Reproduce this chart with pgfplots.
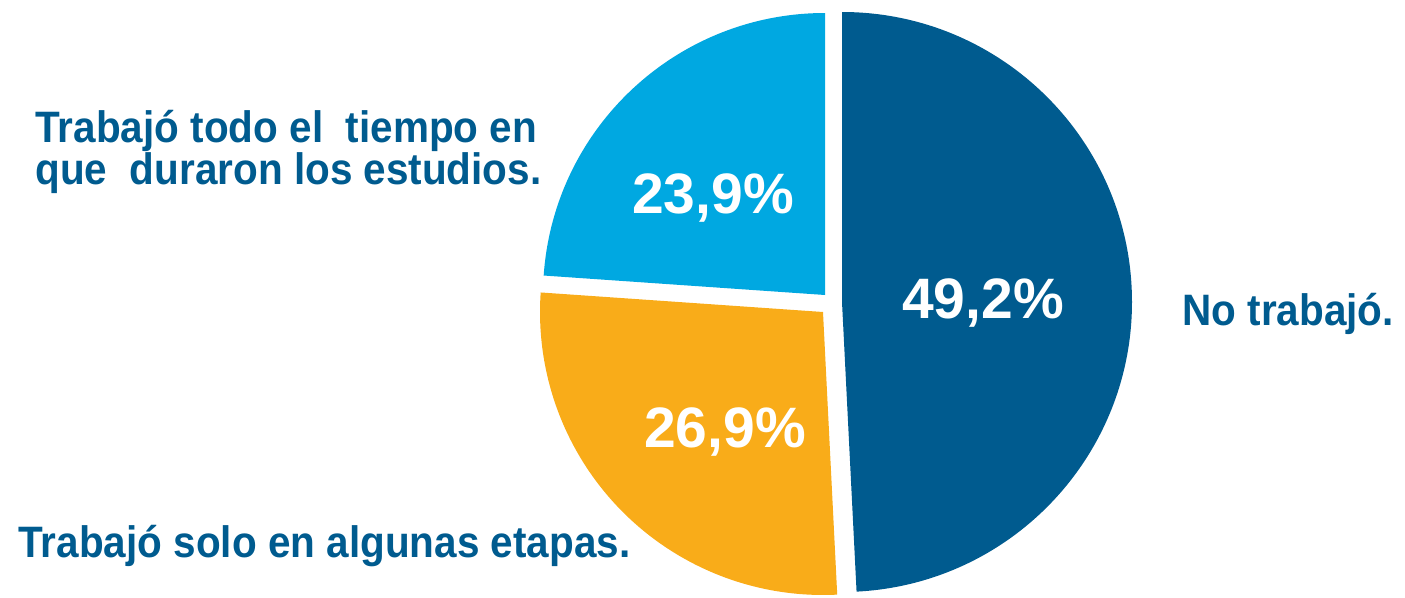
\documentclass[border=0pt]{standalone}
\usepackage{graphicx}
\usepackage{pgfplots}
\usepackage{pgfplotstable}
\pgfplotsset{compat=1.18}
\usepackage{fontspec}
\setmainfont{Liberation Sans}
\definecolor{dblue}{HTML}{005B8F}
\definecolor{lblue}{HTML}{00A8E1}
\definecolor{orng}{HTML}{F9AC19}
\pgfplotstableread{
name value
notrab 49.2
algunas 26.9
todo 23.9
}\piedata
\newcommand{\cat}[1]{\scalebox{0.92}[1]{#1}}
\begin{document}
\begin{tikzpicture}
\pgfplotstablegetelem{0}{value}\of\piedata \let\vA\pgfplotsretval
\pgfplotstablegetelem{1}{value}\of\piedata \let\vB\pgfplotsretval
\pgfplotstablegetelem{2}{value}\of\piedata \let\vC\pgfplotsretval
\pgfmathsetmacro{\aA}{90-3.6*\vA}
\pgfmathsetmacro{\aC}{90+3.6*\vC}
\pgfmathsetmacro{\aB}{\aC+3.6*\vB}
\begin{axis}[
  width=702.5pt, height=296pt, scale only axis,
  xmin=0, xmax=1405, ymin=0, ymax=592,
  hide axis, clip=false,
]
\path (axis cs:0,0) rectangle (axis cs:1405,592);
% No trabajó
\fill[dblue] (axis cs:842,290) -- ++(90:145pt) arc[start angle=90, end angle=\aA, radius=145pt] -- cycle;
% Trabajó todo el tiempo
\fill[lblue] (axis cs:825,297) -- ++(90:141pt) arc[start angle=90, end angle=\aC, radius=141pt] -- cycle;
% Trabajó solo en algunas etapas
\fill[orng] (axis cs:823,280) -- ++(\aC:141.5pt) arc[start angle=\aC, end angle=\aB, radius=141.5pt] -- cycle;
% value labels
\node[anchor=base, inner sep=0pt, text=white, font=\fontsize{28.5}{30}\selectfont\bfseries] at (axis cs:983,274) {49,2\%};
\node[anchor=base, inner sep=0pt, text=white, font=\fontsize{28.5}{30}\selectfont\bfseries] at (axis cs:713,379) {23,9\%};
\node[anchor=base, inner sep=0pt, text=white, font=\fontsize{28.5}{30}\selectfont\bfseries] at (axis cs:725,145) {26,9\%};
% category labels
\node[anchor=base west, inner sep=0pt, text=dblue, font=\fontsize{22}{24}\selectfont\bfseries] at (axis cs:35,450) {\cat{Trabajó todo el~~tiempo en}};
\node[anchor=base west, inner sep=0pt, text=dblue, font=\fontsize{22}{24}\selectfont\bfseries] at (axis cs:35,408) {\cat{que~~duraron los estudios.}};
\node[anchor=base west, inner sep=0pt, text=dblue, font=\fontsize{22}{24}\selectfont\bfseries] at (axis cs:18,35) {\cat{Trabajó solo en algunas etapas.}};
\node[anchor=base west, inner sep=0pt, text=dblue, font=\fontsize{22}{24}\selectfont\bfseries] at (axis cs:1182,267) {\cat{No trabajó.}};
\end{axis}
\end{tikzpicture}
\end{document}
